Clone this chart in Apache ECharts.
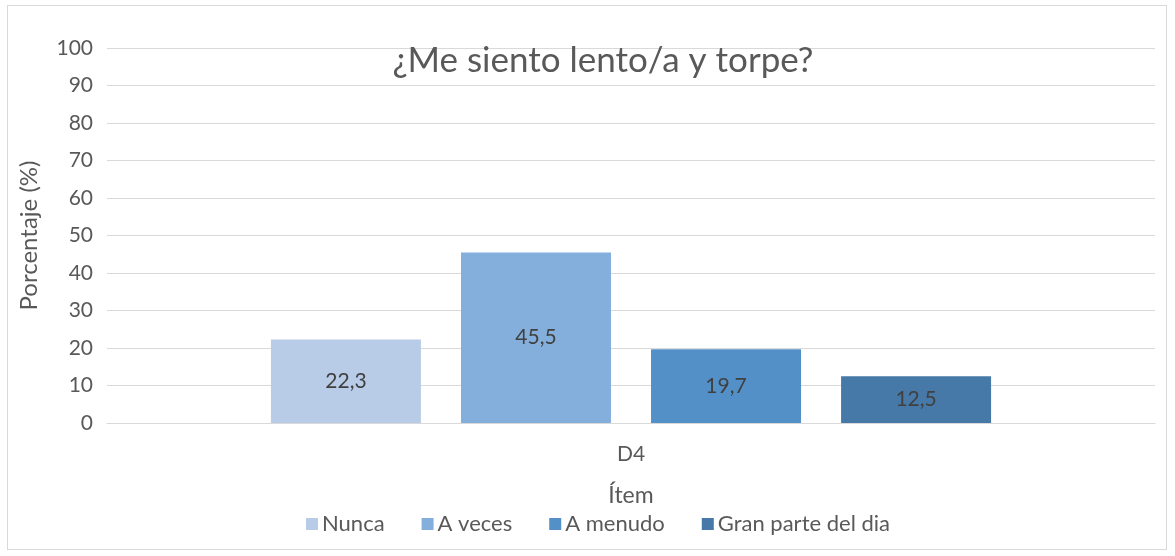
<!DOCTYPE html>
<html>
<head>
<meta charset="utf-8">
<script src="https://cdn.jsdelivr.net/npm/echarts@6/dist/echarts.min.js"></script>
<style>
  html, body { margin: 0; padding: 0; background: #fff; }
  #frame { position: absolute; left: 7px; top: 5px; width: 1158px; height: 543px; border: 1px solid #d9d9d9; }
  #chart { position: absolute; left: 0; top: 0; width: 1175px; height: 556px; }
</style>
</head>
<body>
<div id="frame"></div>
<div id="chart"></div>
<script>
// ---------------------- Data ----------------------
let items = ["D4"];
let answer_names = ["Nunca", "A veces", "A menudo", "Gran parte del dia"];
let nunca_values = [22.3];
let a_veces_values = [45.5];
let a_menudo_values = [19.7];
let gran_parte_values = [12.5];
let y_ticks = [0, 10, 20, 30, 40, 50, 60, 70, 80, 90, 100];

// ---------------------- Style ----------------------
let font_name = "Lato";
let text_color = "#595959";
let bar_colors = ["#b8cce8", "#84afdc", "#5490c8", "#4679a8"];
let all_values = [nunca_values, a_veces_values, a_menudo_values, gran_parte_values];

let chart = echarts.init(document.getElementById("chart"));

function make_series(index) {
    return {
        name: answer_names[index],
        type: 'bar',
        data: all_values[index],
        barWidth: 150,
        barGap: '26.7%',
        itemStyle: {color: bar_colors[index]},
        label: {
            show: true,
            position: 'inside',
            color: '#404040',
            fontFamily: font_name,
            fontSize: 21,
            formatter: function (p) { return String(p.value).replace('.', ','); }
        }
    };
}

let series_list = [];
for (let i = 0; i < answer_names.length; i++) {
    series_list.push(make_series(i));
}

let option = {
    backgroundColor: 'transparent',
    animation: false,
    title: {
        text: '¿Me siento lento/a y torpe?',
        left: 598,
        top: 38,
        textAlign: 'center',
        textStyle: {color: text_color, fontFamily: font_name, fontSize: 35, fontWeight: 'normal'}
    },
    legend: {
        data: answer_names,
        left: 301,
        top: 508,
        itemWidth: 12,
        itemHeight: 12,
        itemGap: 37,
        icon: 'rect',
        textStyle: {color: text_color, fontFamily: font_name, fontSize: 22, padding: [0, 0, 0, -1]}
    },
    grid: {left: 107, right: 20, top: 48, bottom: 133, containLabel: false},
    xAxis: {
        type: 'category',
        data: items,
        name: 'Ítem',
        nameLocation: 'middle',
        nameGap: 61,
        nameTextStyle: {color: text_color, fontFamily: font_name, fontSize: 23},
        axisLine: {lineStyle: {color: '#d9d9d9', width: 1}},
        axisTick: {show: false},
        axisLabel: {color: text_color, fontFamily: font_name, fontSize: 21, margin: 21}
    },
    yAxis: {
        type: 'value',
        min: y_ticks[0],
        max: y_ticks[y_ticks.length - 1],
        interval: 10,
        name: 'Porcentaje (%)',
        nameLocation: 'middle',
        nameGap: 66,
        nameTextStyle: {color: text_color, fontFamily: font_name, fontSize: 24},
        axisLine: {show: false},
        axisTick: {show: false},
        splitLine: {lineStyle: {color: '#d9d9d9', width: 1}},
        axisLabel: {color: text_color, fontFamily: font_name, fontSize: 21, margin: 14}
    },
    series: series_list
};

chart.setOption(option, true);
</script>
</body>
</html>
